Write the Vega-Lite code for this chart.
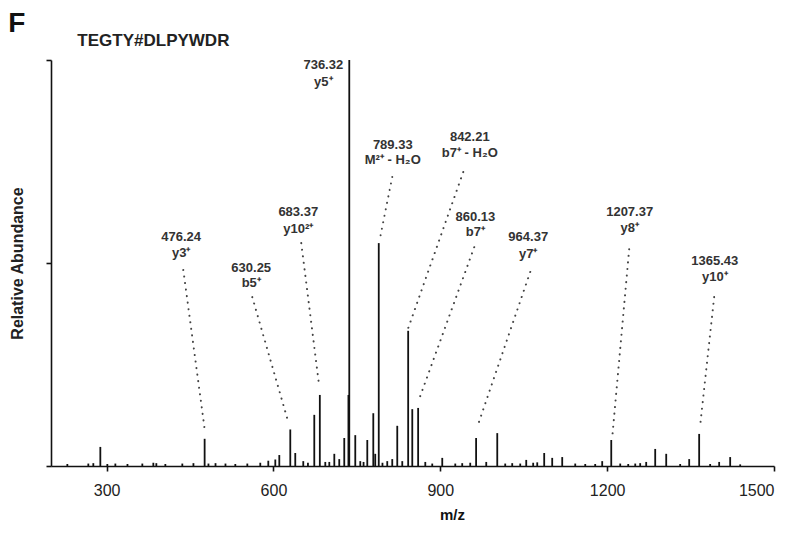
{
  "$schema": "https://vega.github.io/schema/vega-lite/v6.json",
  "width": 723,
  "height": 406,
  "autosize": {"type": "none"},
  "padding": {"left": 51, "top": 60, "right": 31, "bottom": 73},
  "background": "white",
  "config": {
    "view": {"stroke": null},
    "axis": {"grid": false, "domainColor": "#111", "tickColor": "#111", "domainWidth": 1.6, "tickWidth": 1.6}
  },
  "datasets": {
    "peaks": [
      {"mz": 229.4, "abundance": 0.5}, {"mz": 267.1, "abundance": 0.6}, {"mz": 276.1, "abundance": 0.7},
      {"mz": 288.7, "abundance": 4.7}, {"mz": 301.3, "abundance": 0.5}, {"mz": 315.7, "abundance": 0.6},
      {"mz": 337.5, "abundance": 0.5}, {"mz": 364.2, "abundance": 0.6}, {"mz": 384.0, "abundance": 0.8},
      {"mz": 389.4, "abundance": 0.7}, {"mz": 405.6, "abundance": 0.5}, {"mz": 436.1, "abundance": 0.6},
      {"mz": 456.1, "abundance": 0.7}, {"mz": 476.24, "abundance": 6.7}, {"mz": 483.1, "abundance": 0.6},
      {"mz": 495.8, "abundance": 0.7}, {"mz": 513.7, "abundance": 0.6}, {"mz": 531.4, "abundance": 0.5},
      {"mz": 553.0, "abundance": 0.6}, {"mz": 576.3, "abundance": 0.8}, {"mz": 590.7, "abundance": 1.3},
      {"mz": 603.3, "abundance": 1.6}, {"mz": 610.5, "abundance": 2.7}, {"mz": 630.25, "abundance": 9.0},
      {"mz": 639.2, "abundance": 3.2}, {"mz": 653.6, "abundance": 1.2}, {"mz": 662.0, "abundance": 0.8},
      {"mz": 673.4, "abundance": 12.6}, {"mz": 683.37, "abundance": 17.5}, {"mz": 693.2, "abundance": 1.0},
      {"mz": 700.4, "abundance": 1.0}, {"mz": 709.4, "abundance": 3.0}, {"mz": 718.3, "abundance": 1.7},
      {"mz": 727.3, "abundance": 6.9}, {"mz": 734.8, "abundance": 17.5}, {"mz": 736.32, "abundance": 100},
      {"mz": 747.1, "abundance": 7.6}, {"mz": 756.1, "abundance": 1.2}, {"mz": 762.0, "abundance": 1.0},
      {"mz": 768.7, "abundance": 6.4}, {"mz": 779.5, "abundance": 13.0}, {"mz": 783.0, "abundance": 3.0},
      {"mz": 789.33, "abundance": 54.9}, {"mz": 796.0, "abundance": 0.8}, {"mz": 804.6, "abundance": 1.2},
      {"mz": 813.6, "abundance": 1.7}, {"mz": 822.6, "abundance": 9.9}, {"mz": 831.6, "abundance": 1.2},
      {"mz": 842.21, "abundance": 33.3}, {"mz": 849.6, "abundance": 14.0}, {"mz": 860.13, "abundance": 14.3},
      {"mz": 873.0, "abundance": 1.0}, {"mz": 885.5, "abundance": 0.6}, {"mz": 903.5, "abundance": 2.0},
      {"mz": 926.9, "abundance": 0.6}, {"mz": 939.4, "abundance": 0.7}, {"mz": 953.8, "abundance": 0.8},
      {"mz": 964.37, "abundance": 6.9}, {"mz": 982.6, "abundance": 1.0}, {"mz": 1002.4, "abundance": 8.1},
      {"mz": 1016.7, "abundance": 0.6}, {"mz": 1029.3, "abundance": 0.7}, {"mz": 1043.7, "abundance": 0.6},
      {"mz": 1054.5, "abundance": 1.5}, {"mz": 1067.0, "abundance": 0.8}, {"mz": 1074.3, "abundance": 0.9},
      {"mz": 1086.8, "abundance": 3.2}, {"mz": 1101.2, "abundance": 2.0}, {"mz": 1119.2, "abundance": 2.2},
      {"mz": 1142.6, "abundance": 0.6}, {"mz": 1160.6, "abundance": 0.5}, {"mz": 1178.5, "abundance": 0.5},
      {"mz": 1191.1, "abundance": 1.2}, {"mz": 1207.37, "abundance": 6.4}, {"mz": 1223.5, "abundance": 0.6},
      {"mz": 1237.9, "abundance": 0.5}, {"mz": 1250.5, "abundance": 0.6}, {"mz": 1259.4, "abundance": 0.7},
      {"mz": 1270.2, "abundance": 1.0}, {"mz": 1286.4, "abundance": 4.2}, {"mz": 1306.2, "abundance": 3.0},
      {"mz": 1331.3, "abundance": 0.5}, {"mz": 1347.5, "abundance": 1.7}, {"mz": 1365.43, "abundance": 7.9},
      {"mz": 1385.2, "abundance": 0.5}, {"mz": 1401.4, "abundance": 1.0}, {"mz": 1421.2, "abundance": 2.2},
      {"mz": 1439.2, "abundance": 0.4}
    ],
    "labels": [
      {"mass": "476.24", "ion": "y3⁺", "label_mz": 434.0, "mass_ab": 56.4, "ion_ab": 52.5},
      {"mass": "630.25", "ion": "b5⁺", "label_mz": 560.0, "mass_ab": 48.8, "ion_ab": 45.1},
      {"mass": "683.37", "ion": "y10²⁺", "label_mz": 644.6, "mass_ab": 62.6, "ion_ab": 58.4},
      {"mass": "736.32", "ion": "y5⁺", "label_mz": 689.6, "mass_ab": 98.8, "ion_ab": 94.6},
      {"mass": "789.33", "ion": "M²⁺ - H₂O", "label_mz": 814.5, "mass_ab": 79.1, "ion_ab": 75.4},
      {"mass": "842.21", "ion": "b7⁺ - H₂O", "label_mz": 953.0, "mass_ab": 81.0, "ion_ab": 77.1},
      {"mass": "860.13", "ion": "b7⁺", "label_mz": 963.0, "mass_ab": 61.3, "ion_ab": 57.6},
      {"mass": "964.37", "ion": "y7⁺", "label_mz": 1058.1, "mass_ab": 56.4, "ion_ab": 52.2},
      {"mass": "1207.37", "ion": "y8⁺", "label_mz": 1240.5, "mass_ab": 62.6, "ion_ab": 58.6},
      {"mass": "1365.43", "ion": "y10⁺", "label_mz": 1393.5, "mass_ab": 50.5, "ion_ab": 46.6}
    ],
    "leaders": [
      {"mass": "476.24", "x1": 437.9, "y1": 48.3, "x2": 476.0, "y2": 9.4},
      {"mass": "630.25", "x1": 561.9, "y1": 41.6, "x2": 626.7, "y2": 10.8},
      {"mass": "683.37", "x1": 650.0, "y1": 54.9, "x2": 682.4, "y2": 19.5},
      {"mass": "789.33", "x1": 813.6, "y1": 71.2, "x2": 792.0, "y2": 56.4},
      {"mass": "842.21", "x1": 941.2, "y1": 72.4, "x2": 842.4, "y2": 34.0},
      {"mass": "860.13", "x1": 961.0, "y1": 53.9, "x2": 862.0, "y2": 16.5},
      {"mass": "964.37", "x1": 1061.7, "y1": 47.8, "x2": 966.4, "y2": 9.6},
      {"mass": "1207.37", "x1": 1239.6, "y1": 53.4, "x2": 1209.5, "y2": 7.6},
      {"mass": "1365.43", "x1": 1392.4, "y1": 41.6, "x2": 1367.3, "y2": 10.1}
    ],
    "panel": [
      {"text": "F", "mz": 123.3, "abundance": 106.9, "kind": "letter"}
    ],
    "peptide": [
      {"text": "TEGTY#DLPYWDR", "mz": 247.4, "abundance": 103.4}
    ]
  },
  "layer": [
    {
      "data": {"name": "peaks"},
      "mark": {"type": "rule", "color": "#111", "strokeWidth": 1.8},
      "encoding": {
        "x": {
          "field": "mz", "type": "quantitative",
          "scale": {"domain": [200, 1500], "nice": false, "zero": false},
          "axis": {
            "values": [300, 600, 900, 1200, 1500],
            "format": "d",
            "title": "m/z",
            "tickSize": 5,
            "labelPadding": 11,
            "labelDx": 5,
            "labelFont": "Liberation Sans",
            "labelFontSize": 16,
            "labelColor": "#222",
            "titleFont": "Liberation Sans",
            "titleFontSize": 15,
            "titleFontWeight": "bold",
            "titleColor": "#111",
            "titlePadding": 9,
            "titleX": 401
          }
        },
        "y": {
          "field": "abundance", "type": "quantitative",
          "scale": {"domain": [0, 100], "nice": false},
          "axis": {
            "values": [0, 50, 100],
            "labels": false,
            "tickSize": 5,
            "title": "Relative Abundance",
            "titleFont": "Liberation Sans",
            "titleFontSize": 16,
            "titleFontWeight": "bold",
            "titleColor": "#222",
            "titlePadding": 20
          }
        },
        "y2": {"datum": 0}
      }
    },
    {
      "data": {"name": "leaders"},
      "mark": {"type": "rule", "color": "#444", "strokeWidth": 2, "strokeDash": [0.1, 6.5], "strokeCap": "round"},
      "encoding": {
        "x": {"field": "x1", "type": "quantitative"},
        "y": {"field": "y1", "type": "quantitative"},
        "x2": {"field": "x2"},
        "y2": {"field": "y2"}
      }
    },
    {
      "data": {"name": "labels"},
      "mark": {"type": "text", "font": "Liberation Sans", "fontSize": 13, "fontWeight": "bold", "color": "#333", "baseline": "middle", "align": "center"},
      "encoding": {
        "x": {"field": "label_mz", "type": "quantitative"},
        "y": {"field": "mass_ab", "type": "quantitative"},
        "text": {"field": "mass"}
      }
    },
    {
      "data": {"name": "labels"},
      "mark": {"type": "text", "font": "Liberation Sans", "fontSize": 13, "fontWeight": "bold", "color": "#333", "baseline": "middle", "align": "center"},
      "encoding": {
        "x": {"field": "label_mz", "type": "quantitative"},
        "y": {"field": "ion_ab", "type": "quantitative"},
        "text": {"field": "ion"}
      }
    },
    {
      "data": {"name": "panel"},
      "mark": {"type": "text", "font": "Liberation Sans", "fontSize": 28, "fontWeight": "bold", "color": "#111", "baseline": "alphabetic", "align": "left"},
      "encoding": {
        "x": {"field": "mz", "type": "quantitative"},
        "y": {"field": "abundance", "type": "quantitative"},
        "text": {"field": "text"}
      }
    },
    {
      "data": {"name": "peptide"},
      "mark": {"type": "text", "font": "Liberation Sans", "fontSize": 17, "fontWeight": "bold", "color": "#222", "baseline": "alphabetic", "align": "left"},
      "encoding": {
        "x": {"field": "mz", "type": "quantitative"},
        "y": {"field": "abundance", "type": "quantitative"},
        "text": {"field": "text"}
      }
    }
  ]
}
